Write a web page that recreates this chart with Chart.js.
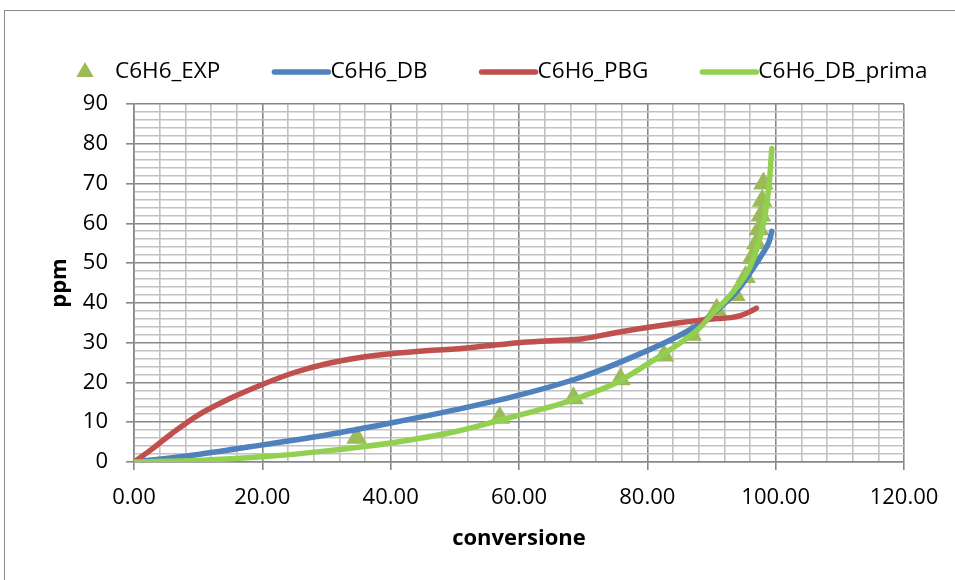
<!DOCTYPE html>
<html>
<head>
<meta charset="utf-8">
<script src="https://cdn.jsdelivr.net/npm/chart.js@4/dist/chart.umd.min.js"></script>
<style>
  html, body { margin: 0; padding: 0; background: #fff; }
  #wrap { position: relative; width: 955px; height: 580px; }
</style>
</head>
<body>
<div id="wrap"><canvas id="c" width="955" height="580"></canvas></div>
<script>
// Experimental benzene measurements (conversion %, ppm)
const expConv = [34.7, 57.0, 68.5, 75.8, 82.6, 86.9, 90.8, 93.7, 95.3, 96.3, 97.0, 97.4, 97.7, 97.9, 98.1];
const expPpm  = [6.1, 11.1, 16.0, 20.8, 26.8, 32.0, 38.3, 42.0, 46.5, 51.3, 55.0, 58.5, 62.0, 65.7, 70.0];

// Model DB
const dbConv = [0, 5, 10, 20, 30, 40, 50, 60, 70, 80, 85, 88, 90, 92, 94, 96, 98, 99, 99.4];
const dbPpm  = [0, 0.9, 1.9, 4.3, 6.8, 9.8, 13.1, 16.8, 21.5, 28.0, 31.8, 34.6, 37.0, 39.8, 43.0, 47.5, 52.5, 55.5, 58.0];

// Model PBG
const pbgConv = [0, 3, 6, 10, 15, 20, 25, 30, 35, 40, 45, 50, 55, 60, 65, 70, 75, 80, 85, 88, 91, 93, 94.5, 96, 97];
const pbgPpm  = [0, 3.5, 7.3, 11.8, 16.0, 19.5, 22.5, 24.7, 26.2, 27.2, 27.9, 28.4, 29.2, 30.0, 30.5, 31.0, 32.5, 33.8, 35.0, 35.6, 36.1, 36.3, 36.8, 37.8, 38.7];

// Model DB_prima
const primaConv = [0, 10, 20, 30, 40, 50, 57, 60, 65, 70, 75, 80, 85, 88, 90, 92.4, 94.7, 96, 97, 98.3, 99, 99.4];
const primaPpm  = [0, 0.4, 1.3, 2.8, 4.8, 7.6, 10.5, 11.8, 13.9, 16.6, 19.8, 24.6, 29.8, 33.5, 37.0, 41.0, 45.5, 49.0, 53.3, 61.6, 70.0, 78.8];

// Axis tick labels (major ticks only)
const xTickLabels = ['0.00', '20.00', '40.00', '60.00', '80.00', '100.00', '120.00'];
const yTickLabels = ['0', '10', '20', '30', '40', '50', '60', '70', '80', '90'];

const seriesNames = ['C6H6_EXP', 'C6H6_DB', 'C6H6_PBG', 'C6H6_DB_prima'];

const toXY = (xs, ys) => xs.map((x, i) => ({ x: x, y: ys[i] }));

const FONT = '"Open Sans", "Noto Sans", sans-serif';
const MAJOR = '#888888';
const MINOR = '#c2c2c2';

// Frame around the whole chart object
const framePlugin = {
  id: 'frame',
  beforeDraw(chart) {
    const ctx = chart.ctx;
    ctx.save();
    ctx.fillStyle = '#fff';
    ctx.fillRect(0, 0, chart.width, chart.height);
    ctx.strokeStyle = '#8a8a8a';
    ctx.lineWidth = 1;
    ctx.strokeRect(4.5, 10.5, 2000, 2000);
    ctx.restore();
  }
};

// Horizontal legend across the top
const legendPlugin = {
  id: 'topLegend',
  afterDraw(chart) {
    const ctx = chart.ctx;
    const y = 72;
    let x = 75;
    ctx.save();
    ctx.font = '22.5px ' + FONT;
    ctx.textBaseline = 'middle';
    ctx.textAlign = 'left';
    chart.data.datasets.forEach(ds => {
      let textX;
      if (!ds.showLine) {
        const cx = x + 10, r = 10;
        ctx.fillStyle = ds.pointBackgroundColor;
        ctx.beginPath();
        ctx.moveTo(cx, y - r);
        ctx.lineTo(cx + r * Math.sin(2 * Math.PI / 3), y - r * Math.cos(2 * Math.PI / 3));
        ctx.lineTo(cx + r * Math.sin(4 * Math.PI / 3), y - r * Math.cos(4 * Math.PI / 3));
        ctx.closePath();
        ctx.fill();
        textX = x + 40;
      } else {
        ctx.strokeStyle = ds.borderColor;
        ctx.lineWidth = 5.5;
        ctx.lineCap = 'round';
        ctx.beginPath();
        ctx.moveTo(x + 2, y);
        ctx.lineTo(x + 56, y);
        ctx.stroke();
        textX = x + 58;
      }
      ctx.fillStyle = '#000';
      ctx.fillText(ds.label, textX, y);
      x = textX + ctx.measureText(ds.label).width + 52;
    });
    ctx.restore();
  }
};

const isMajor = (v, step) => Math.abs(Math.round(v) % step) === 0 && Math.abs(v - Math.round(v)) < 1e-6;

const lineSeries = (label, xs, ys, color, order) => ({
  label: label,
  data: toXY(xs, ys),
  showLine: true,
  borderColor: color,
  borderWidth: 5.5,
  borderCapStyle: 'round',
  borderJoinStyle: 'round',
  pointRadius: 0,
  cubicInterpolationMode: 'monotone',
  order: order
});

new Chart(document.getElementById('c'), {
  type: 'scatter',
  data: {
    datasets: [
      {
        label: seriesNames[0],
        data: toXY(expConv, expPpm),
        showLine: false,
        pointStyle: 'triangle',
        pointRadius: 12,
        pointBackgroundColor: '#9bbb59',
        pointBorderColor: '#9bbb59',
        pointBorderWidth: 0,
        order: 4
      },
      lineSeries(seriesNames[1], dbConv, dbPpm, '#4f81bd', 3),
      lineSeries(seriesNames[2], pbgConv, pbgPpm, '#c0504d', 2),
      lineSeries(seriesNames[3], primaConv, primaPpm, '#92d050', 1)
    ]
  },
  options: {
    responsive: false,
    animation: false,
    devicePixelRatio: 1,
    layout: { padding: { top: 104, right: 51, bottom: 0, left: 0 } },
    plugins: {
      legend: { display: false },
      tooltip: { enabled: false }
    },
    scales: {
      x: {
        type: 'linear',
        position: 'bottom',
        min: 0,
        max: 120,
        afterFit: s => { s.height = 118; },
        ticks: {
          stepSize: 4,
          autoSkip: false,
          maxRotation: 0,
          padding: 15,
          color: '#000',
          font: { family: FONT, size: 22 },
          callback: v => isMajor(v, 20) ? xTickLabels[Math.round(v) / 20] : ''
        },
        grid: {
          lineWidth: 1.6,
          color: c => isMajor(c.tick.value, 20) ? MAJOR : MINOR,
          tickColor: c => isMajor(c.tick.value, 20) ? MAJOR : 'rgba(0,0,0,0)',
          tickLength: 8
        },
        border: { color: MAJOR, width: 1.6 },
        title: {
          display: true,
          text: 'conversione',
          color: '#000',
          font: { family: FONT, size: 22, weight: 'bold' },
          padding: { top: 0, bottom: 28 }
        }
      },
      y: {
        type: 'linear',
        min: 0,
        max: 90,
        afterFit: s => { s.width = 134; },
        ticks: {
          stepSize: 2,
          autoSkip: false,
          padding: 18,
          color: '#000',
          font: { family: FONT, size: 22 },
          callback: v => isMajor(v, 10) ? yTickLabels[Math.round(v) / 10] : ''
        },
        grid: {
          lineWidth: 1.6,
          color: c => isMajor(c.tick.value, 10) ? MAJOR : MINOR,
          tickColor: c => isMajor(c.tick.value, 10) ? MAJOR : 'rgba(0,0,0,0)',
          tickLength: 8
        },
        border: { color: MAJOR, width: 1.6 },
        title: {
          display: true,
          text: 'ppm',
          color: '#000',
          font: { family: FONT, size: 22, weight: 'bold' },
          padding: { top: 47, bottom: 0 }
        }
      }
    }
  },
  plugins: [framePlugin, legendPlugin]
});
</script>
</body>
</html>
